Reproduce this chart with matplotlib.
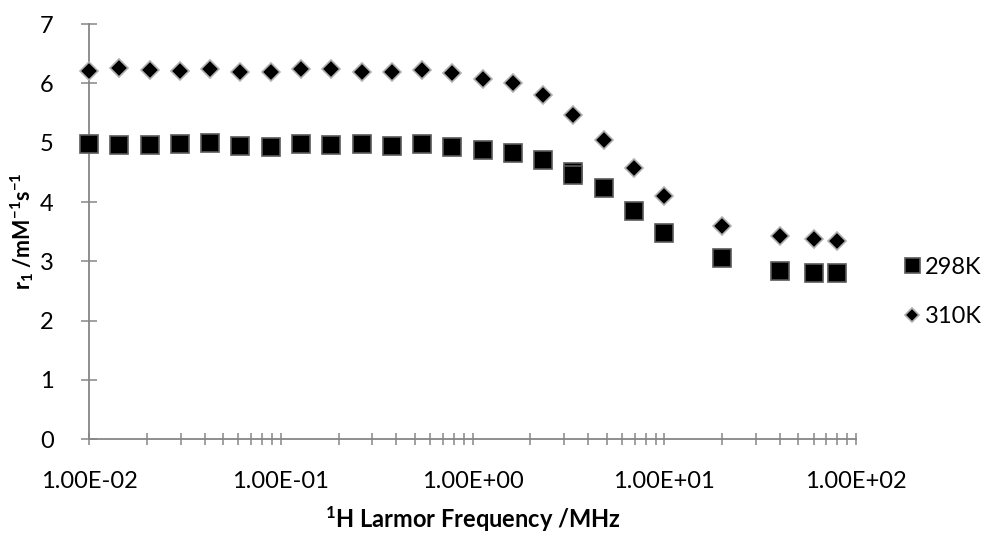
import numpy as np
import matplotlib
matplotlib.use("Agg")
import matplotlib.pyplot as plt
from matplotlib.ticker import FixedLocator, FuncFormatter, NullFormatter

plt.rcParams['font.family'] = ['Lato', 'DejaVu Sans']
plt.rcParams['mathtext.fontset'] = 'custom'
plt.rcParams['mathtext.rm'] = 'Lato:bold'
plt.rcParams['mathtext.it'] = 'Lato:bold'
plt.rcParams['mathtext.bf'] = 'Lato:bold'
plt.rcParams['mathtext.default'] = 'rm'

# 1H Larmor frequency (MHz) and relaxivity r1 (mM^-1 s^-1)
freq_298 = [0.01, 0.0144, 0.0207, 0.0298, 0.0428, 0.0616, 0.0886, 0.127, 0.183,
            0.264, 0.379, 0.546, 0.785, 1.13, 1.62, 2.34, 3.36, 3.36, 4.83, 6.95,
            10.0, 20.0, 40.0, 60.0, 80.0]
r1_298 = [4.97, 4.96, 4.96, 4.97, 4.99, 4.94, 4.92, 4.97, 4.96,
          4.97, 4.94, 4.97, 4.93, 4.88, 4.82, 4.70, 4.50, 4.46, 4.23, 3.85,
          3.48, 3.05, 2.84, 2.80, 2.80]

freq_310 = [0.01, 0.0144, 0.0207, 0.0298, 0.0428, 0.0616, 0.0886, 0.127, 0.183,
            0.264, 0.379, 0.546, 0.785, 1.13, 1.62, 2.34, 3.36, 4.83, 6.95,
            10.0, 20.0, 40.0, 60.0, 80.0]
r1_310 = [6.21, 6.26, 6.22, 6.21, 6.25, 6.20, 6.20, 6.24, 6.24,
          6.19, 6.20, 6.22, 6.17, 6.08, 6.00, 5.80, 5.47, 5.05, 4.57,
          4.10, 3.60, 3.43, 3.37, 3.35]

x_major = [0.01, 0.1, 1, 10, 100]
y_major = [0, 1, 2, 3, 4, 5, 6, 7]

axis_grey = '#868686'

fig = plt.figure(figsize=(9.84, 5.35), dpi=100)
ax = fig.add_axes([0.0905, 0.179, 0.7795, 0.776])

ax.plot(freq_298, r1_298, linestyle='none', marker='s', markersize=13.5,
        markerfacecolor='black', markeredgecolor='#5a5a5a', markeredgewidth=1.2,
        label='298K', clip_on=False, zorder=3)
ax.plot(freq_310, r1_310, linestyle='none', marker='D', markersize=9.5,
        markerfacecolor='black', markeredgecolor='#b0b0b0', markeredgewidth=1.2,
        label='310K', clip_on=False, zorder=3)

ax.set_xscale('log')
ax.set_xlim(0.01, 100)
ax.set_ylim(0, 7)

minor = []
for dec in [0.01, 0.1, 1, 10]:
    minor += [dec * k for k in range(2, 10)]
ax.xaxis.set_major_locator(FixedLocator(x_major))
ax.xaxis.set_minor_locator(FixedLocator(minor))
ax.xaxis.set_major_formatter(FuncFormatter(lambda v, p: f"{v:.2E}"))
ax.xaxis.set_minor_formatter(NullFormatter())
ax.yaxis.set_major_locator(FixedLocator(y_major))

for s in ['top', 'right']:
    ax.spines[s].set_visible(False)
for s in ['left', 'bottom']:
    ax.spines[s].set_color(axis_grey)
    ax.spines[s].set_linewidth(1.3)

ax.tick_params(axis='y', which='major', direction='inout', length=11,
               width=1.1, color=axis_grey, labelsize=17, pad=20)
ax.tick_params(axis='x', which='both', direction='inout', length=8,
               width=1.1, color=axis_grey, labelsize=17, pad=19)

ax.set_xlabel(r'$^{1}$H Larmor Frequency /MHz', fontsize=17, fontweight='bold',
              labelpad=9)
ax.set_ylabel(r'r$_{1}$ /mM$^{-1}$s$^{-1}$', fontsize=15.5, fontweight='bold',
              labelpad=3)

ax.legend(loc='center left', bbox_to_anchor=(1.05, 0.355), frameon=False,
          fontsize=17, handlelength=0.7, handletextpad=0.2, labelspacing=1.2,
          markerscale=0.8, borderaxespad=0)

fig.savefig('out.png', dpi=100)
